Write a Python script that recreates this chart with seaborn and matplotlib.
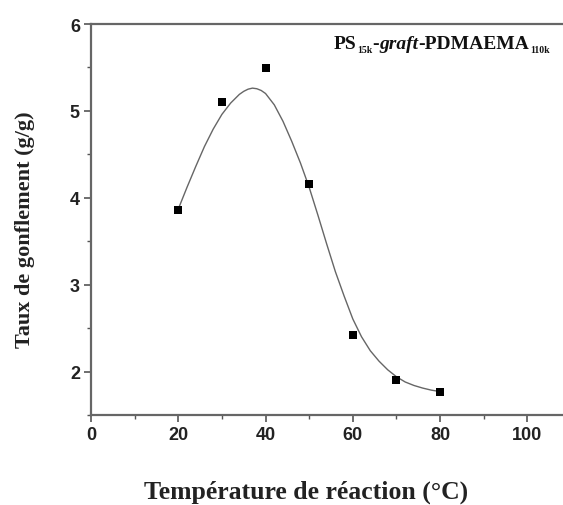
import matplotlib
matplotlib.use("Agg")
import matplotlib.pyplot as plt
from matplotlib.ticker import MultipleLocator
import seaborn as sns
import pandas as pd

# Measured points
temperature = [20, 30, 40, 50, 60, 70, 80]
swelling = [3.86, 5.10, 5.49, 4.16, 2.42, 1.90, 1.76]

# Fitted curve
curve_t = [20, 22, 24, 26, 28, 30, 32, 34, 35, 36, 37, 38, 39, 40, 42, 44, 46,
           48, 50, 52, 54, 56, 58, 60, 62, 64, 66, 68, 70, 72, 74, 76, 78, 80]
curve_v = [3.87, 4.12, 4.36, 4.59, 4.79, 4.96, 5.09, 5.19, 5.225, 5.250, 5.262,
           5.255, 5.235, 5.20, 5.07, 4.88, 4.65, 4.40, 4.12, 3.80, 3.47, 3.15,
           2.87, 2.605, 2.40, 2.24, 2.12, 2.02, 1.94, 1.88, 1.84, 1.81, 1.786,
           1.77]

xticks = [0, 20, 40, 60, 80, 100]
yticks = [2, 3, 4, 5, 6]

sns.set_style("ticks")

fig = plt.figure(figsize=(5.63, 5.06), dpi=100)
ax = fig.add_axes([91 / 563, 90 / 506, 480 / 563, 391 / 506])

df_curve = pd.DataFrame({"t": curve_t, "v": curve_v})
df_pts = pd.DataFrame({"t": temperature, "v": swelling})

sns.lineplot(data=df_curve, x="t", y="v", ax=ax, color="#666666", linewidth=1.0,
             sort=False, estimator=None)
sns.scatterplot(data=df_pts, x="t", y="v", ax=ax, marker="s", s=36, color="black",
                edgecolor="black", linewidth=0, zorder=3)

ax.set_xlim(0, 110)
ax.set_ylim(1.5, 6)
ax.set_xticks(xticks)
ax.set_yticks(yticks)
ax.xaxis.set_minor_locator(MultipleLocator(10))
ax.yaxis.set_minor_locator(MultipleLocator(0.5))
ax.set_xticklabels([str(v) for v in xticks], fontfamily="Liberation Sans",
                   fontweight="bold", fontsize=13, color="#222222")
ax.set_yticklabels([str(v) for v in yticks], fontfamily="Liberation Sans",
                   fontweight="bold", fontsize=13, color="#222222")
ax.tick_params(axis="both", which="major", direction="out", length=5, width=1.2,
               color="#555555", pad=3)
ax.tick_params(axis="both", which="minor", direction="out", length=3, width=1.0,
               color="#555555")
for sp in ax.spines.values():
    sp.set_color("#666666")
    sp.set_linewidth(1.6)

ax.set_xlabel("")
ax.set_ylabel("")
fig.text(306 / 563, 1 - 492 / 506, "Température de réaction (°C)",
         ha="center", va="center", fontfamily="Liberation Serif",
         fontweight="bold", fontsize=18.5, color="#222222")
fig.text(25 / 563, 1 - 230 / 506, "Taux de gonflement (g/g)",
         ha="center", va="center", rotation=90, fontfamily="Liberation Serif",
         fontweight="bold", fontsize=16, color="#222222")

# Rich label: PS_15k-graft-PDMAEMA_110k
main_size = 14
sub_size = 7
first = fig.text(334 / 563, 1 - 53 / 506, "PS", ha="left", va="bottom",
                 fontfamily="Liberation Serif", fontweight="bold",
                 fontsize=main_size, color="#111111")


def chain(prev_x, prev_y, s, size, style="normal", dx=0, dy=0):
    return ax.annotate(s, xy=(1, 0), xycoords=(prev_x, prev_y),
                       xytext=(dx, dy), textcoords="offset points",
                       ha="left", va="bottom", fontfamily="Liberation Serif",
                       fontweight="bold", fontstyle=style, fontsize=size,
                       color="#111111", annotation_clip=False)


s1 = chain(first, first, "15k", sub_size, dx=0.5, dy=-1.5)
m1 = chain(s1, first, "-", main_size)
m2 = chain(m1, first, "graft", main_size, style="italic")
m3 = chain(m2, first, "-PDMAEMA", main_size)
s2 = chain(m3, first, "110k", sub_size, dx=0.5, dy=-1.5)

fig.savefig("out.png", dpi=100)
